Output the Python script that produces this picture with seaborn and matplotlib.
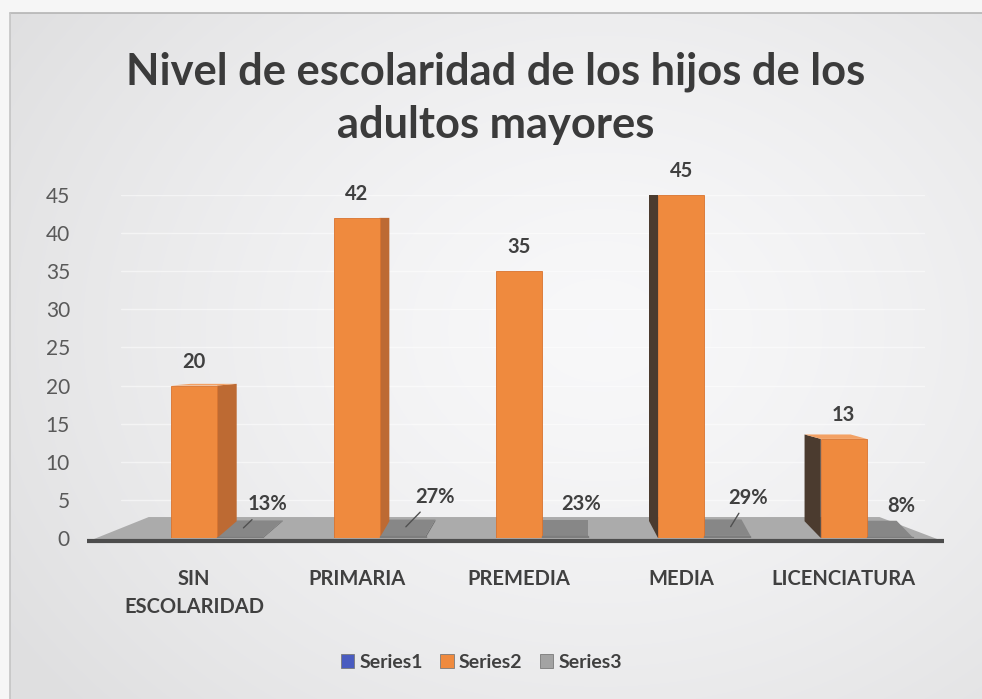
import numpy as np
import pandas as pd
import matplotlib
matplotlib.use("Agg")
import matplotlib.pyplot as plt
import seaborn as sns
from matplotlib.patches import Polygon

# ---- data ----
categorias = ["SIN\nESCOLARIDAD", "PRIMARIA", "PREMEDIA", "MEDIA", "LICENCIATURA"]
series_nombres = ["Series1", "Series2", "Series3"]
series1 = [0, 0, 0, 0, 0]
series2 = [20, 42, 35, 45, 13]
series3 = [0.13, 0.27, 0.23, 0.29, 0.08]
y_ticks = [0, 5, 10, 15, 20, 25, 30, 35, 40, 45]
titulo = "Nivel de escolaridad de los hijos de los\nadultos mayores"

colores = {"Series1": "#4A5CC0", "Series2": "#EF8A3E", "Series3": "#A3A3A3"}

df = pd.DataFrame({
    "categoria": categorias * 3,
    "serie": [s for s in series_nombres for _ in categorias],
    "valor": series1 + series2 + series3,
})

sns.set_theme(style="white")
plt.rcParams["font.family"] = ["Lato", "DejaVu Sans"]

W, H = 982, 699
fig = plt.figure(figsize=(W / 100, H / 100), dpi=100)

# ---- background panel with soft gradient ----
bg = fig.add_axes([0, 0, 1, 1], zorder=-10)
yy, xx = np.mgrid[0:H, 0:W]
r = np.sqrt(((xx - 600) / 1.0) ** 2 + ((yy - 330) / 0.8) ** 2)
val = 0.972 - 0.095 * np.clip(r / 700, 0, 1) ** 1.4
img = np.dstack([val, val, val * 1.005])
img = np.clip(img, 0, 1)
img[:13, :, :] = 0.965
img[:, :10, :] = 0.965
bg.imshow(img, extent=[0, W, H, 0], aspect="auto", interpolation="bilinear")
bg.plot([10, W], [13, 13], color="#b4b4b4", lw=1.2)
bg.plot([10, 10], [13, H], color="#c4c4c4", lw=1.2)
bg.set_xlim(0, W)
bg.set_ylim(H, 0)
bg.axis("off")

# ---- plot area ----
x0_px, x1_px = 113, 925
y0_px, y1_px = 538, 195
ax = fig.add_axes([x0_px / W, (H - y0_px) / H, (x1_px - x0_px) / W, (y0_px - y1_px) / H])
ax.patch.set_alpha(0)

sns.barplot(data=df, x="categoria", y="valor", hue="serie",
            order=categorias, hue_order=series_nombres, palette=colores,
            width=0.85, saturation=1, ax=ax, legend=True, zorder=5,
            err_kws={"linewidth": 0})

ax.set_xlim(-0.5, 4.5)
ax.set_ylim(0, 45)
for s in ax.spines.values():
    s.set_visible(False)

# faint gridlines
for yv in y_ticks[1:]:
    ax.plot([-0.45, 4.5], [yv, yv], color="#ffffff", lw=1.0, alpha=0.5, zorder=0)

# floor of the chart
piso = Polygon([(-0.66, -0.5), (4.62, -0.5), (4.22, 2.75), (-0.28, 2.75)],
               closed=True, fc="#ababab", ec="none", zorder=1, clip_on=False)
ax.add_patch(piso)
ax.plot([-0.66, 4.62], [-0.45, -0.45], color="#4d4d4d", lw=3, zorder=2,
        clip_on=False, solid_capstyle="butt")

# depth faces for each bar
ladeo = [0.12, 0.06, 0.0, -0.055, -0.1]
fondo = 2.2


def caras(bar, i, lateral_der, lateral_izq, arriba):
    xa = bar.get_x()
    w = bar.get_width()
    h = bar.get_height()
    dx = ladeo[i]
    dy = fondo * max(0.0, 1 - h / 46) ** 4
    xs = xa + w if dx >= 0 else xa
    col = lateral_der if dx >= 0 else lateral_izq
    side = [(xs, 0), (xs, h), (xs + dx, h + dy), (xs + dx, fondo)]
    ax.add_patch(Polygon(side, closed=True, fc=col, ec="none", zorder=4, clip_on=False))
    top = [(xa, h), (xa + w, h), (xa + w + dx, h + dy), (xa + dx, h + dy)]
    ax.add_patch(Polygon(top, closed=True, fc=arriba, ec="none", zorder=4, clip_on=False))


for bar in ax.containers[0]:
    bar.set_visible(False)
cont2 = ax.containers[1]
cont3 = ax.containers[2]
for i, bar in enumerate(cont3):
    bar.set_facecolor("#7d7d7d")
    bar.set_edgecolor("#7d7d7d")
    caras(bar, i, "#6e6e6e", "#6e6e6e", "#878787")
for i, bar in enumerate(cont2):
    bar.set_edgecolor("#d9732e")
    bar.set_linewidth(0.6)
    caras(bar, i, "#bd6a33", "#4b3b2f", "#f3a164")

# value labels
for bar, v in zip(cont2, series2):
    ax.annotate(f"{v}", (bar.get_x() + bar.get_width() / 2, v),
                xytext=(0, 10), textcoords="offset points", ha="center", va="bottom",
                fontsize=14.5, fontweight="bold", color="#404040", zorder=8)

pct_pos = [(0.17, 4.4), (0.20, 5.4), (0.10, 4.4), (0.13, 5.3), (0.07, 4.2)]
guia = [True, True, False, True, False]
for i, (bar, v) in enumerate(zip(cont3, series3)):
    xc = bar.get_x() + bar.get_width() / 2
    ox, oy = pct_pos[i]
    kw = {}
    if guia[i]:
        kw["arrowprops"] = dict(arrowstyle="-", color="#505050", lw=1.0,
                                shrinkA=2, shrinkB=0)
    ax.annotate(f"{v:.0%}", (xc + 0.02, v + 1.2), xytext=(xc + ox, oy),
                textcoords="data", ha="center", va="center",
                fontsize=14.5, fontweight="bold", color="#404040", zorder=8,
                annotation_clip=False, **kw)

# axes labels
ax.set_yticks(y_ticks)
ax.set_yticklabels([str(t) for t in y_ticks])
ax.tick_params(axis="y", length=0, pad=31, labelsize=15, labelcolor="#595959")
ax.tick_params(axis="x", length=0, pad=22, labelsize=14.5, labelcolor="#404040")
for lab in ax.get_xticklabels():
    lab.set_fontweight("bold")
    lab.set_linespacing(1.5)
ax.set_xlabel("")
ax.set_ylabel("")

# legend
sns.move_legend(ax, "center", bbox_to_anchor=(0.49, (H - 662) / H),
                bbox_transform=fig.transFigure, ncol=3, frameon=False, title=None,
                handlelength=0.7, handleheight=0.7, handletextpad=0.25,
                columnspacing=0.9, fontsize=14)
leg = ax.get_legend()
for t in leg.get_texts():
    t.set_fontweight("bold")
    t.set_color("#404040")
for hnd in leg.legend_handles:
    hnd.set_edgecolor("#7a7a7a")
    hnd.set_linewidth(0.6)

# title
tt = fig.text(496 / W, 1 - 98 / H, titulo, ha="center", va="center",
              fontsize=30, fontweight="bold", color="#3b3b3b", linespacing=1.4,
              multialignment="center")
fig.canvas.draw()
bw = tt.get_window_extent().width
tt.set_fontsize(30 * 736 / bw)

fig.savefig("out.png", dpi=100)
